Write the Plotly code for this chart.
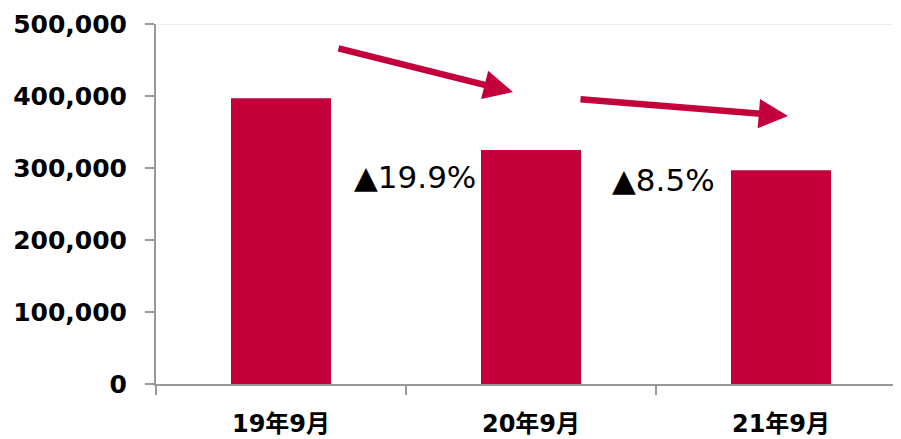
import plotly.graph_objects as go

categories = ["19年9月", "20年9月", "21年9月"]
values = [397000, 325000, 297000]
change_labels = ["▲19.9%", "▲8.5%"]
y_ticks = [0, 100000, 200000, 300000, 400000, 500000]
y_ticktext = ["0", "100,000", "200,000", "300,000", "400,000", "500,000"]

BAR = "#C4003C"
FONT = "DejaVu Sans, Noto Sans CJK JP"

fig = go.Figure()
fig.add_trace(go.Bar(x=categories, y=values, marker=dict(color=BAR, line=dict(width=0)), width=0.4))

# arrows
arrows = [((0.224, 466700), (0.928, 405500)), ((1.192, 395800), (2.028, 372200))]
for (x0, y0), (x1, y1) in arrows:
    fig.add_annotation(x=x1, y=y1, ax=x0, ay=y0, xref="x", yref="y", axref="x", ayref="y",
                       showarrow=True, arrowhead=2, arrowsize=0.9, arrowwidth=6.5, arrowcolor=BAR, text="")

# change labels
label_pos = [(0.536, 287500), (1.528, 283300)]
for (x, y), t in zip(label_pos, change_labels):
    fig.add_annotation(x=x, y=y, xref="x", yref="y", text=t, showarrow=False,
                       font=dict(family=FONT, size=31, color="#000000"))

fig.add_shape(type="line", xref="paper", yref="y", x0=0, x1=1, y0=500000, y1=500000,
              line=dict(color="#DDDDDD", width=1))

# the page body adds an 8px offset, so the figure is sized to fit the window after it
fig.update_layout(
    width=893, height=431,
    margin=dict(l=148, r=0, t=16, b=55),
    plot_bgcolor="white", paper_bgcolor="white",
    showlegend=False,
    bargap=0.6,
)
fig.update_xaxes(type="category", range=[-0.5, 2.48], showline=True, linecolor="#999999", linewidth=2,
                 ticks="outside", tickson="boundaries", ticklen=9, tickcolor="#999999", tickwidth=2,
                 ticklabelstandoff=17, automargin=False,
                 tickfont=dict(family=FONT, size=24, color="#000000", weight="bold"), showgrid=False)
fig.update_yaxes(range=[0, 500000], tickvals=y_ticks, ticktext=y_ticktext, showline=True,
                 linecolor="#999999", linewidth=2, ticks="outside", ticklen=9, tickcolor="#999999",
                 tickwidth=2, showgrid=False, zeroline=False, ticklabelstandoff=13, automargin=False,
                 tickfont=dict(family=FONT, size=25, color="#000000", weight="bold"))

fig.write_html("out.html")
